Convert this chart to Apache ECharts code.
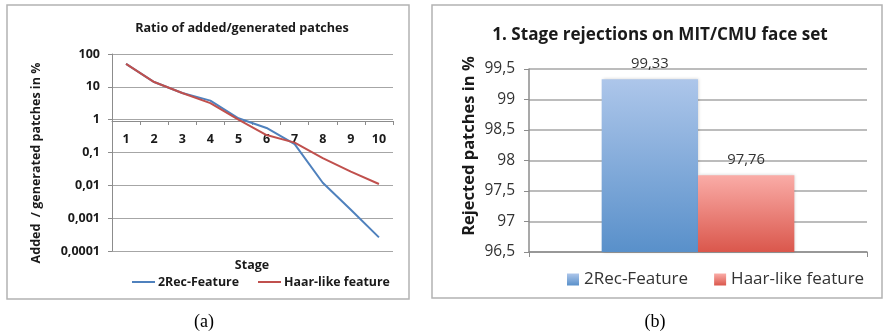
<!DOCTYPE html>
<html>
<head>
<meta charset="utf-8">
<script src="https://cdn.jsdelivr.net/npm/echarts@6/dist/echarts.min.js"></script>
<style>
  html, body { margin: 0; padding: 0; background: #fff; }
  #chart { width: 883px; height: 336px; }
</style>
</head>
<body>
<div id="chart"></div>
<script>
// Panel (a): ratio of added/generated patches per cascade stage (log scale)
const stages = ['1', '2', '3', '4', '5', '6', '7', '8', '9', '10'];
const rec2Ratio  = [50, 14, 6.5, 3.8, 1.1, 0.56, 0.18, 0.012, 0.0018, 0.00026];
const haarRatio  = [50, 14, 6.5, 3.2, 1.0, 0.34, 0.2, 0.067, 0.026, 0.011];

// Panel (b): first-stage rejections on the MIT/CMU face set
const rejectCategory = [''];
const rec2Rejected = [99.33];
const haarRejected = [97.76];

const seriesNames = ['2Rec-Feature', 'Haar-like feature'];
const barIds = ['rec2-bar', 'haar-bar'];

const BLUE = '#4f81bd';
const RED = '#c0504d';
const FONT = '"Open Sans", Lato, sans-serif';
const GRID_LINE = '#a6a6a6';

const comma = v => parseFloat(Number(v).toPrecision(6)).toString().replace('.', ',');

const blueGrad = new echarts.graphic.LinearGradient(0, 0, 0, 1, [
  { offset: 0, color: '#adc6ea' }, { offset: 1, color: '#5990ca' }
]);
const redGrad = new echarts.graphic.LinearGradient(0, 0, 0, 1, [
  { offset: 0, color: '#faaca7' }, { offset: 1, color: '#da574c' }
]);

const chart = echarts.init(document.getElementById('chart'), null, { renderer: 'canvas' });

chart.setOption({
  animation: false,
  backgroundColor: '#fff',
  textStyle: { fontFamily: FONT },
  grid: [
    { left: 112, top: 54, right: 490, bottom: 85 },
    { left: 529, top: 69, right: 16, bottom: 84 }
  ],
  xAxis: [
    {
      gridIndex: 0, type: 'category', data: stages, boundaryGap: true,
      position: 'bottom', offset: -130,
      axisLine: { onZero: false, lineStyle: { color: '#8c8c8c', width: 1 } },
      axisTick: { show: true, interval: 0, length: 4, lineStyle: { color: '#8c8c8c' } },
      axisLabel: { interval: 0, margin: 12, color: '#1a1a1a', fontWeight: 'bold', fontSize: 12.5, fontFamily: FONT },
      splitLine: { show: false }
    },
    {
      gridIndex: 1, type: 'category', data: rejectCategory, boundaryGap: true,
      axisLine: { onZero: false, lineStyle: { color: '#8c8c8c', width: 1.5 } },
      axisTick: { show: true, length: 5, lineStyle: { color: '#8c8c8c' } },
      axisLabel: { show: false },
      splitLine: { show: false }
    }
  ],
  yAxis: [
    {
      gridIndex: 0, type: 'log', logBase: 10, min: 0.0001, max: 100,
      axisLine: { show: true, lineStyle: { color: '#8c8c8c' } },
      axisTick: { show: true, length: 4, lineStyle: { color: '#8c8c8c' } },
      axisLabel: { margin: 12, color: '#1a1a1a', fontWeight: 'bold', fontSize: 12.5, fontFamily: FONT, formatter: comma },
      splitLine: { show: true, lineStyle: { color: GRID_LINE, width: 1 } }
    },
    {
      gridIndex: 1, type: 'value', min: 96.5, max: 99.5, interval: 0.5,
      axisLine: { show: true, lineStyle: { color: '#8c8c8c', width: 1.5 } },
      axisTick: { show: true, length: 5, lineStyle: { color: '#8c8c8c' } },
      axisLabel: { margin: 14, color: '#333', fontSize: 15.5, fontFamily: FONT, formatter: comma },
      splitLine: { show: true, lineStyle: { color: GRID_LINE, width: 1.5 } }
    }
  ],
  legend: [
    {
      left: 127, top: 271, itemWidth: 23, itemHeight: 12, itemGap: 19,
      icon: 'path://M0,5L23,5L23,7L0,7Z',
      textStyle: { fontFamily: FONT, fontWeight: 'bold', fontSize: 12.4, color: '#1a1a1a', padding: [0, 0, 0, -2] },
      data: seriesNames
    },
    {
      left: 562, top: 266, itemWidth: 12, itemHeight: 12, itemGap: 26,
      icon: 'rect',
      textStyle: { fontFamily: FONT, fontSize: 17, color: '#333' },
      formatter: id => seriesNames[barIds.indexOf(id)],
      data: barIds
    }
  ],
  series: [
    {
      name: seriesNames[0], type: 'line', xAxisIndex: 0, yAxisIndex: 0,
      data: rec2Ratio, symbol: 'none', smooth: false,
      lineStyle: { color: BLUE, width: 2 }, itemStyle: { color: BLUE }, z: 3
    },
    {
      name: seriesNames[1], type: 'line', xAxisIndex: 0, yAxisIndex: 0,
      data: haarRatio, symbol: 'none', smooth: false,
      lineStyle: { color: RED, width: 2 }, itemStyle: { color: RED }, z: 4
    },
    {
      id: barIds[0], name: barIds[0], type: 'bar', xAxisIndex: 1, yAxisIndex: 1,
      data: rec2Rejected, barGap: '0%', barCategoryGap: '43%',
      itemStyle: { color: blueGrad, shadowColor: 'rgba(0,0,0,0.18)', shadowBlur: 3, shadowOffsetX: 1 },
      label: { show: true, position: 'top', distance: 8, color: '#333', fontSize: 14.8, fontFamily: FONT, formatter: p => comma(p.value) }
    },
    {
      id: barIds[1], name: barIds[1], type: 'bar', xAxisIndex: 1, yAxisIndex: 1,
      data: haarRejected, barGap: '0%', barCategoryGap: '43%',
      itemStyle: { color: redGrad, shadowColor: 'rgba(0,0,0,0.18)', shadowBlur: 3, shadowOffsetX: 1 },
      label: { show: true, position: 'top', distance: 8, color: '#333', fontSize: 14.8, fontFamily: FONT, formatter: p => comma(p.value) }
    }
  ],
  graphic: [
    // panel frames
    { type: 'rect', shape: { x: 7, y: 5, width: 402, height: 294 }, style: { fill: 'none', stroke: '#b3b3b3', lineWidth: 1.5 }, z: -1 },
    { type: 'rect', shape: { x: 432, y: 5, width: 450, height: 293 }, style: { fill: 'none', stroke: '#b3b3b3', lineWidth: 1.5 }, z: -1 },
    // titles
    { type: 'text', x: 242, y: 28, style: { text: 'Ratio of added/generated patches', font: 'bold 12.6px ' + FONT, fill: '#1a1a1a', textAlign: 'center', textVerticalAlign: 'middle' } },
    { type: 'text', x: 660, y: 35, style: { text: '1. Stage rejections on MIT/CMU face set', font: 'bold 17.1px ' + FONT, fill: '#1a1a1a', textAlign: 'center', textVerticalAlign: 'middle' } },
    // axis names
    { type: 'text', x: 36, y: 163, rotation: Math.PI / 2, style: { text: 'Added  / generated patches in %', font: 'bold 12.5px ' + FONT, fill: '#1a1a1a', textAlign: 'center', textVerticalAlign: 'middle' } },
    { type: 'text', x: 252, y: 265, style: { text: 'Stage', font: 'bold 12.5px ' + FONT, fill: '#1a1a1a', textAlign: 'center', textVerticalAlign: 'middle' } },
    { type: 'text', x: 469, y: 146, rotation: Math.PI / 2, style: { text: 'Rejected patches in %', font: 'bold 16.5px ' + FONT, fill: '#1a1a1a', textAlign: 'center', textVerticalAlign: 'middle' } },
    // sub-figure captions
    { type: 'text', x: 204, y: 322, style: { text: '(a)', font: '18px "Liberation Serif", "DejaVu Serif", serif', fill: '#000', textAlign: 'center', textVerticalAlign: 'middle' } },
    { type: 'text', x: 655, y: 322, style: { text: '(b)', font: '18px "Liberation Serif", "DejaVu Serif", serif', fill: '#000', textAlign: 'center', textVerticalAlign: 'middle' } }
  ]
});
</script>
</body>
</html>
